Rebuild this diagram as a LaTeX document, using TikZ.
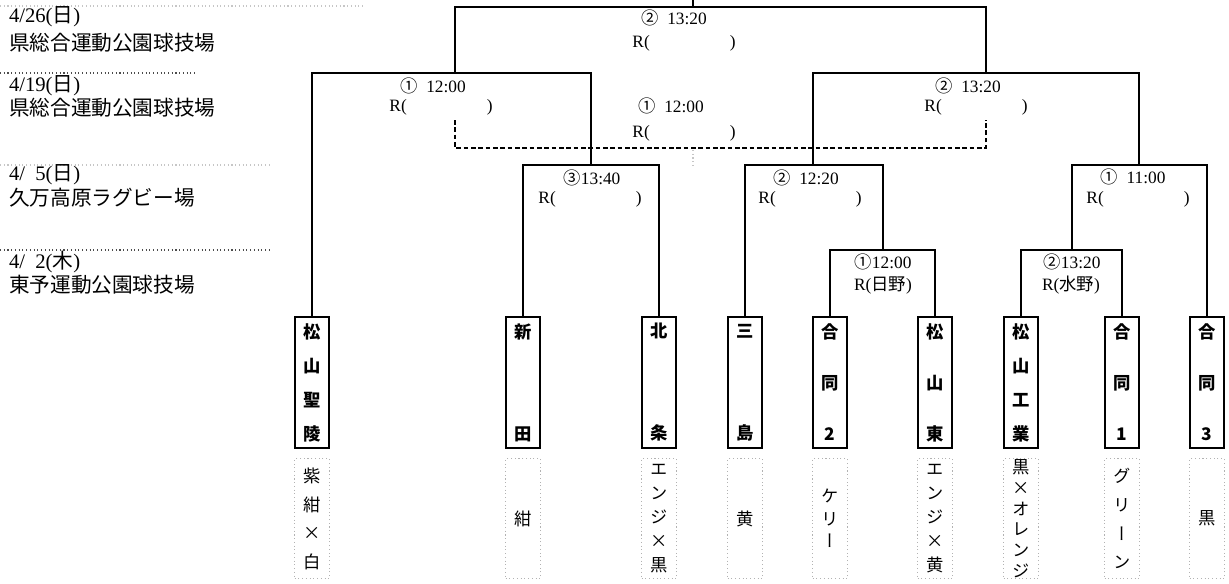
\documentclass[tikz,border=0pt]{standalone}
\usepackage{fontspec}
\setmainfont{Liberation Serif}
\newfontfamily\jp{Noto Sans CJK JP}
\newfontfamily\jpv[RawFeature=+vert]{Noto Sans CJK JP}
\usepackage{tikz}
\usetikzlibrary{positioning}

\newcommand\blankref{R(\hspace{60pt})}

\begin{document}
\begin{tikzpicture}[x=0.75pt,y=-0.75pt,line width=1.5pt,node distance=7pt]
  \tikzstyle{team} = [draw,rectangle,inner sep=0pt,minimum width=26pt,minimum height=98pt,align=center,font=\jp\bfseries\fontsize{13pt}{#1}\selectfont]
  \tikzstyle{colour} = [draw=gray!60,dotted,line width=0.8pt,rectangle,inner sep=0pt,minimum width=26pt,minimum height=90pt,align=center,font=\jpv\fontsize{13pt}{#1}\selectfont]
  \tikzstyle{date} = [anchor=west,inner sep=0pt,font=\fontsize{15.5pt}{18pt}\selectfont]
  \tikzstyle{match} = [inner sep=0pt,font=\fontsize{13pt}{15pt}\selectfont]
  \tikzstyle{cell} = [gray!45,dotted,line width=0.8pt]
  \tikzstyle{third} = [dash pattern=on 3.5pt off 2pt]
  \useasboundingbox (0,0) rectangle (1229,583);

  % dates and grounds
  \draw [cell] (0,6) -- (365,6);
  \node [date] (d1) at (8,17) {4/26({\jp 日})};
  \node [date] (v1) at (8,43) {\jp 県総合運動公園球技場};
  \draw [cell,black!70] (0,73) -- (196,73);
  \node [date] (d2) at (8,86) {4/19({\jp 日})};
  \node [date] (v2) at (8,108) {\jp 県総合運動公園球技場};
  \draw [cell] (0,165) -- (272,165);
  \node [date] (d3) at (8,175) {4/\enspace5({\jp 日})};
  \node [date] (v3) at (8,198) {\jp 久万高原ラグビー場};
  \draw [cell,black!70] (0,250) -- (272,250);
  \node [date] (d4) at (8,262) {4/\enspace2({\jp 木})};
  \node [date] (v4) at (8,285) {\jp 東予運動公園球技場};

  % teams
  \node [team=25.5pt] (t1) at (312,382.5) {松\\山\\聖\\陵};
  \node [team=76.5pt] (t2) at (523,382.5) {新\\田};
  \node [team=76.5pt] (t3) at (659,382.5) {北\\条};
  \node [team=76.5pt] (t4) at (745,382.5) {三\\島};
  \node [team=38.25pt] (t5) at (830,382.5) {合\\同\\2};
  \node [team=38.25pt] (t6) at (935,382.5) {松\\山\\東};
  \node [team=25.5pt] (t7) at (1021,382.5) {松\\山\\工\\業};
  \node [team=38.25pt] (t8) at (1122,382.5) {合\\同\\1};
  \node [team=38.25pt] (t9) at (1207,382.5) {合\\同\\3};

  % uniform colours
  \node [colour=21.4pt,below=of t1] (c1) {紫\\紺\\×\\白};
  \node [colour=16pt,below=of t2] (c2) {紺};
  \node [colour=18pt,below=of t3] (c3) {エ\\ン\\ジ\\×\\黒};
  \node [colour=16pt,below=of t4] (c4) {黄};
  \node [colour=16.9pt,below=of t5] (c5) {ケ\\リ\\ー};
  \node [colour=18pt,below=of t6] (c6) {エ\\ン\\ジ\\×\\黄};
  \node [colour=15.5pt,below=of t7] (c7) {黒\\×\\オ\\レ\\ン\\ジ};
  \node [colour=21.5pt,below=of t8] (c8) {グ\\リ\\ー\\ン};
  \node [colour=16pt,below=of t9] (c9) {黒};

  % bracket
  \coordinate (top) at (693,0);
  \coordinate (j0) at (693,7);
  \coordinate (j1) at (455,73);
  \coordinate (j2) at (986,73);
  \coordinate (j3) at (591,165);
  \coordinate (j4) at (813,165);
  \coordinate (j5) at (1139,165);
  \coordinate (j6) at (883,250);
  \coordinate (j7) at (1072,250);
  \coordinate (s1) at (455,120);
  \coordinate (s0) at (720,148);
  \coordinate (s2) at (986,120);

  \draw (j0) -- (top);
  \draw (j1) |- (j0) -| (j2);
  \draw (t1.north) |- (j1) -| (j3);
  \draw (j4) |- (j2) -| (j5);
  \draw (t2.north) |- (j3) -| (t3.north);
  \draw (t4.north) |- (j4) -| (j6);
  \draw (t5.north) |- (j6) -| (t6.north);
  \draw (j7) |- (j5) -| (t9.north);
  \draw (t7.north) |- (j7) -| (t8.north);
  \draw [third] (s1) |- (s0) -| (s2);
  \draw [cell] (693,150) -- (693,165);

  % match labels
  \node [match] (g0a) at (674,18) {{\jp ②}\enspace13:20};
  \node [match] (g0b) at (684,43) {\blankref};
  \node [match] (g1a) at (433,86) {{\jp ①}\enspace12:00};
  \node [match] (g1b) at (441,107) {\blankref};
  \node [match] (g2a) at (968,86) {{\jp ②}\enspace13:20};
  \node [match] (g2b) at (976,107) {\blankref};
  \node [match] (g3a) at (671,106) {{\jp ①}\enspace12:00};
  \node [match] (g3b) at (684,133) {\blankref};
  \node [match] (g4a) at (592,178) {{\jp ③}13:40};
  \node [match] (g4b) at (590,199) {\blankref};
  \node [match] (g5a) at (806,178) {{\jp ②}\enspace12:20};
  \node [match] (g5b) at (810,199) {\blankref};
  \node [match] (g6a) at (1133,177) {{\jp ①}\enspace11:00};
  \node [match] (g6b) at (1138,199) {\blankref};
  \node [match] (g7a) at (883,262) {{\jp ①}12:00};
  \node [match] (g7b) at (883,285) {R({\jp 日野})};
  \node [match] (g8a) at (1072,262) {{\jp ②}13:20};
  \node [match] (g8b) at (1071,285) {R({\jp 水野})};
\end{tikzpicture}
\end{document}
